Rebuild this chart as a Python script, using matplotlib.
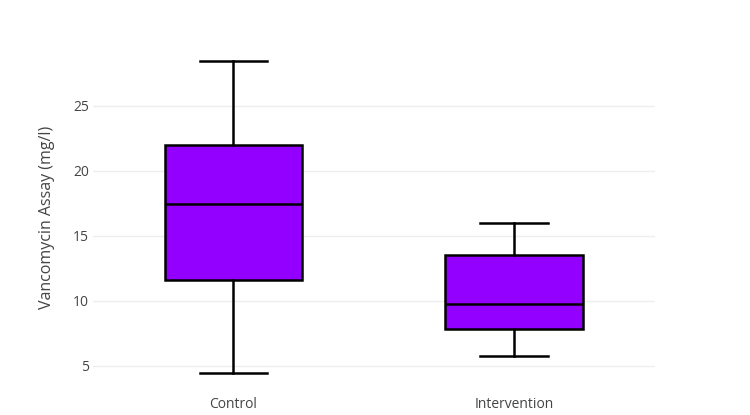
import matplotlib
matplotlib.use('agg')

import matplotlib.pyplot as plt

# Box plot summary values
groups = ['Control', 'Intervention']
whisker_low = [4.44, 5.75]
q1 = [11.59, 7.82]
median = [17.46, 9.72]
q3 = [21.95, 13.52]
whisker_high = [28.42, 16.0]
yticks = [5, 10, 15, 20, 25]

plt.rcParams['font.family'] = ['Open Sans', 'DejaVu Sans']

fig = plt.figure(figsize=(7.5, 4.15), dpi=100)
W, H = 750, 415
left, right, top, bottom = 93, 654.5, 45.6, 388.6
ax = fig.add_axes([left / W, 1 - bottom / H, (right - left) / W, (bottom - top) / H])

stats = []
for i, name in enumerate(groups):
    stats.append({'label': name, 'whislo': whisker_low[i], 'q1': q1[i], 'med': median[i],
                  'q3': q3[i], 'whishi': whisker_high[i], 'fliers': []})

line = dict(color='black', linewidth=1.8)
ax.bxp(stats, positions=range(len(groups)), widths=0.49, patch_artist=True,
       showfliers=False, capwidths=0.24,
       boxprops=dict(facecolor='#9400ff', edgecolor='black', linewidth=1.8),
       medianprops=line, whiskerprops=line, capprops=line, zorder=3)

ax.set_xlim(-0.5, 1.5)
ax.set_ylim(3.24, 29.62)
ax.set_yticks(yticks)
ax.set_xticks(range(len(groups)))
ax.set_xticklabels(groups)
ax.grid(axis='y', color='#eeeeee', linewidth=1, zorder=0)
ax.set_axisbelow(True)
for s in ax.spines.values():
    s.set_visible(False)
ax.tick_params(length=0, labelsize=10, colors='#444444')
ax.tick_params(axis='x', pad=6)
ax.tick_params(axis='y', pad=3)
ax.set_ylabel('Vancomycin Assay (mg/l)', fontsize=11.5, color='#444444', labelpad=13)

plt.savefig('out.png', dpi=100)
